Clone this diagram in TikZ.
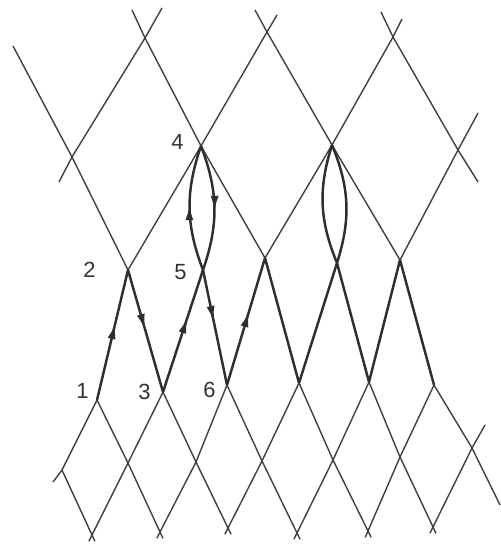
\documentclass[tikz,border=0pt]{standalone}
\usepackage{fontspec}
\setmainfont{Liberation Sans}
\usetikzlibrary{arrows.meta,positioning,decorations.markings}

\begin{document}
\begin{tikzpicture}[
  x=0.02cm,y=-0.02cm,
  >=Latex,
  line/.style={draw=black!75,line width=0.8pt},
  thickline/.style={draw=black!82,line width=1.4pt},
  flow/.style={postaction={decorate},decoration={markings,
    mark=at position #1 with {\arrow{Latex[length=9pt,width=4.6pt]}}}},
  tail/.style={shorten >=-4pt},
  num/.style={font=\fontsize{12.5}{14}\selectfont,text=black!80,inner sep=0pt}
]
\useasboundingbox (0,0) rectangle (500,546);

% crossing points, row by row from the top
\coordinate (a1) at (145,38);
\coordinate (a2) at (267,32);
\coordinate (a3) at (393,37);
\coordinate (b1) at (72,157);
\coordinate (b2) at (201,146);
\coordinate (b3) at (332,145);
\coordinate (b4) at (458,150);
\coordinate (c1) at (128,270);
\coordinate (c2) at (203,270);
\coordinate (c3) at (265,258);
\coordinate (c4) at (337,263);
\coordinate (c5) at (400,260);
\coordinate (d1) at (97,400);
\coordinate (d2) at (163,392);
\coordinate (d3) at (227,385);
\coordinate (d4) at (299,383);
\coordinate (d5) at (369,382);
\coordinate (d6) at (434,385);
\coordinate (e1) at (62,470);
\coordinate (e2) at (128,463);
\coordinate (e3) at (196,462);
\coordinate (e4) at (262,461);
\coordinate (e5) at (333,460);
\coordinate (e6) at (400,457);
\coordinate (e7) at (472,448);
\coordinate (f1) at (92,535);
\coordinate (f2) at (160,532);
\coordinate (f3) at (228,528);
\coordinate (f4) at (297,533);
\coordinate (f5) at (368,531);
\coordinate (f6) at (433,527);

% loose ends of the lines
\coordinate (u1) at (13,46);
\coordinate (u2) at (132,10);
\coordinate (u3) at (162,8);
\coordinate (u4) at (59,182);
\coordinate (u5) at (255,10);
\coordinate (u6) at (277,15);
\coordinate (u7) at (381,12);
\coordinate (u8) at (402,19);
\coordinate (u9) at (478,113);
\coordinate (u10) at (478,182);
\coordinate (w1) at (53,482);
\coordinate (w2) at (485,425);
\coordinate (w3) at (500,505);

% upper layer: wide diamonds
\draw[line] (u1) -- (b1) -- (c1);
\draw[line] (u2) -- (a1) -- (b2) -- (c3);
\draw[line] (u5) -- (a2) -- (b3) -- (c5);
\draw[line] (u7) -- (a3) -- (b4) -- (u10);
\draw[line] (u3) -- (a1) -- (b1) -- (u4);
\draw[line] (u6) -- (a2) -- (b2) -- (c1);
\draw[line] (u8) -- (a3) -- (b3) -- (c3);
\draw[line] (u9) -- (b4) -- (c5);

% lenses below 4 and its neighbour
\draw[thickline,flow=.53] (c2) to[bend left=20] (b2);
\draw[thickline,flow=.53] (b2) to[bend left=20] (c2);
\draw[thickline] (c4) to[bend left=20] (b3);
\draw[thickline] (b3) to[bend left=20] (c4);

% middle layer, steep and bold
\draw[thickline,flow=.59] (d1) -- (c1);
\draw[thickline,flow=.49] (c1) -- (d2);
\draw[thickline,flow=.61] (d2) -- (c2);
\draw[thickline,flow=.45] (c2) -- (d3);
\draw[thickline,flow=.58] (d3) -- (c3);
\draw[thickline] (c3) -- (d4);
\draw[thickline] (c4) -- (d4);
\draw[thickline] (c4) -- (d5);
\draw[thickline] (c5) -- (d5);
\draw[thickline] (c5) -- (d6);

% lower layer: narrow diamonds
\draw[line,tail] (d1) -- (e2) -- (f2);
\draw[line,tail] (d2) -- (e3) -- (f3);
\draw[line,tail] (d3) -- (e4) -- (f4);
\draw[line,tail] (d4) -- (e5) -- (f5);
\draw[line,tail] (d5) -- (e6) -- (f6);
\draw[line] (d6) -- (e7) -- (w3);
\draw[line,tail] (e1) -- (f1);
\draw[line] (d1) -- (e1) -- (w1);
\draw[line,tail] (d2) -- (e2) -- (f1);
\draw[line,tail] (d3) -- (e3) -- (f2);
\draw[line,tail] (d4) -- (e4) -- (f3);
\draw[line,tail] (d5) -- (e5) -- (f4);
\draw[line,tail] (d6) -- (e6) -- (f5);
\draw[line,tail] (w2) -- (e7) -- (f6);

% point numbers
\node[num,left=0.34cm of b2,yshift=0.08cm] (n4) {4};
\node[num,left=0.64cm of c1] (n2) {2};
\node[num,left=0.32cm of c2,yshift=-0.04cm] (n5) {5};
\node[num,left=0.16cm of d1,yshift=0.18cm] (n1) {1};
\node[num,left=0.24cm of d2] (n3) {3};
\node[num,left=0.22cm of d3,yshift=-0.1cm] (n6) {6};
\end{tikzpicture}
\end{document}
